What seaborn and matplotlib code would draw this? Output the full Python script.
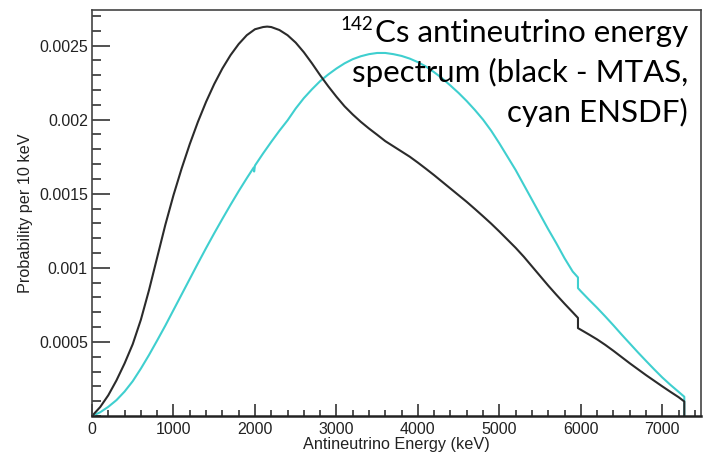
import matplotlib
matplotlib.use("Agg")
import matplotlib.pyplot as plt
from matplotlib.ticker import MultipleLocator, FixedLocator, FixedFormatter
import seaborn as sns
import pandas as pd

# MTAS antineutrino spectrum (energy in keV, probability per 10 keV)
mtas_energy = [0, 100, 200, 300, 400, 500, 600, 700, 800, 900, 1000, 1100, 1200,
               1300, 1400, 1500, 1600, 1700, 1800, 1900, 2000, 2100, 2150, 2200,
               2300, 2400, 2500, 2600, 2700, 2800, 2900, 3000, 3100, 3200, 3300,
               3400, 3500, 3600, 3700, 3800, 3900, 4000, 4100, 4200, 4300, 4400,
               4500, 4600, 4700, 4800, 4900, 5000, 5100, 5200, 5300, 5400, 5500,
               5600, 5700, 5800, 5900, 5965, 5965, 6000, 6100, 6200, 6300, 6400,
               6500, 6600, 6700, 6800, 6900, 7000, 7100, 7200, 7270, 7270]
mtas_prob = [0.0, 0.00006, 0.00014, 0.00024, 0.000355, 0.000485, 0.00065,
             0.00085, 0.00107, 0.00129, 0.00149, 0.00167, 0.001835, 0.001985,
             0.00212, 0.00224, 0.002345, 0.002435, 0.00251, 0.00257, 0.00261,
             0.002625, 0.002628, 0.002625, 0.002605, 0.00257, 0.00252, 0.002455,
             0.00238, 0.0023, 0.002225, 0.002155, 0.00209, 0.002035, 0.001985,
             0.00194, 0.001898, 0.001855, 0.00182, 0.001785, 0.00175, 0.00171,
             0.001668, 0.001625, 0.00158, 0.001535, 0.00149, 0.001445, 0.001397,
             0.001348, 0.001298, 0.001245, 0.00119, 0.001135, 0.001075, 0.00101,
             0.000945, 0.00088, 0.000818, 0.000758, 0.0007, 0.000662, 0.000593,
             0.000582, 0.00055, 0.000517, 0.00048, 0.00044, 0.000398, 0.000356,
             0.000316, 0.000276, 0.000238, 0.0002, 0.000163, 0.000127, 0.000098,
             0.0]

# ENSDF antineutrino spectrum
ensdf_energy = [0, 100, 200, 300, 400, 500, 600, 700, 800, 900, 1000, 1100,
                1200, 1300, 1400, 1500, 1600, 1700, 1800, 1900, 1985, 1990, 2000,
                2100, 2200, 2300, 2400, 2500, 2600, 2700, 2800, 2900, 3000, 3100,
                3200, 3300, 3400, 3500, 3600, 3700, 3800, 3900, 4000, 4100, 4200,
                4300, 4400, 4500, 4600, 4700, 4800, 4900, 5000, 5100, 5200, 5300,
                5400, 5500, 5600, 5700, 5800, 5900, 5965, 5965, 6000, 6100, 6200,
                6300, 6400, 6500, 6600, 6700, 6800, 6900, 7000, 7100, 7200, 7270,
                7270]
ensdf_prob = [0.0, 0.000025, 0.000062, 0.000107, 0.000165, 0.000235, 0.00032,
              0.000412, 0.00051, 0.00061, 0.000715, 0.00082, 0.000925, 0.00103,
              0.001133, 0.001233, 0.00133, 0.001425, 0.001517, 0.001605, 0.001677,
              0.00165, 0.00169, 0.001772, 0.00185, 0.001925, 0.001995, 0.002075,
              0.002145, 0.002205, 0.00226, 0.002305, 0.002345, 0.00238, 0.002408,
              0.002428, 0.002442, 0.00245, 0.00245, 0.002442, 0.00243, 0.002412,
              0.002388, 0.002358, 0.00232, 0.002278, 0.00223, 0.00218, 0.002125,
              0.002065, 0.002, 0.001925, 0.00184, 0.00175, 0.00166, 0.00156,
              0.00146, 0.00136, 0.00126, 0.001165, 0.001065, 0.000975, 0.000935,
              0.000863, 0.000842, 0.000785, 0.00073, 0.000672, 0.000612, 0.00055,
              0.00049, 0.00043, 0.000372, 0.000315, 0.00026, 0.00021, 0.000163,
              0.00013, 0.0]

x_ticks = [0, 1000, 2000, 3000, 4000, 5000, 6000, 7000]
x_tick_labels = ["0", "1000", "2000", "3000", "4000", "5000", "6000", "7000"]
y_ticks = [0.0005, 0.001, 0.0015, 0.002, 0.0025]
y_tick_labels = ["0.0005", "0.001", "0.0015", "0.002", "0.0025"]

title_lines = ["Cs antineutrino energy", "spectrum (black - MTAS,", "cyan ENSDF)"]
isotope_mass = "142"

sns.set_theme(style="white")
plt.rcParams["font.family"] = ["Liberation Sans", "DejaVu Sans"]

W, H = 710, 453
fig = plt.figure(figsize=(W / 100, H / 100), dpi=100)
ax = fig.add_axes([92 / W, 37 / H, 609 / W, 406 / H])

ensdf = pd.DataFrame({"energy": ensdf_energy, "prob": ensdf_prob})
mtas = pd.DataFrame({"energy": mtas_energy, "prob": mtas_prob})
sns.lineplot(data=ensdf, x="energy", y="prob", ax=ax, color="#3fcfcf",
             linewidth=1.5, sort=False, estimator=None)
sns.lineplot(data=mtas, x="energy", y="prob", ax=ax, color="#2b2b2b",
             linewidth=1.5, sort=False, estimator=None)

ax.set_xlim(0, 7475)
ax.set_ylim(0, 0.00274)

ax.xaxis.set_major_locator(FixedLocator(x_ticks))
ax.xaxis.set_major_formatter(FixedFormatter(x_tick_labels))
ax.xaxis.set_minor_locator(MultipleLocator(200))
ax.yaxis.set_major_locator(FixedLocator(y_ticks))
ax.yaxis.set_major_formatter(FixedFormatter(y_tick_labels))
ax.yaxis.set_minor_locator(MultipleLocator(0.0001))

ax.tick_params(axis="x", which="major", direction="in", length=9, width=1.2,
               color="#333333", labelsize=11.5, pad=4, labelcolor="#222222")
ax.tick_params(axis="x", which="minor", direction="in", length=4.5, width=1.2,
               color="#333333")
ax.tick_params(axis="y", which="major", direction="in", length=13, width=1.2,
               color="#333333", labelsize=11.5, pad=3, labelcolor="#222222")
ax.tick_params(axis="y", which="minor", direction="in", length=6.5, width=1.2,
               color="#333333")
ax.tick_params(bottom=True, left=True, top=False, right=False, which="both")

for side, spine in ax.spines.items():
    spine.set_visible(True)
    spine.set_color("#444444")
    spine.set_linewidth(1.2)
ax.spines["bottom"].set_linewidth(1.8)
ax.spines["bottom"].set_color("#222222")

ax.set_xlabel("Antineutrino Energy (keV)", fontsize=11.7, color="#222222", labelpad=0.5)
ax.set_ylabel("Probability per 10 keV", fontsize=11.7, color="#222222", labelpad=4)

# Spectrum caption in the upper right corner, right-aligned
caption_kw = dict(family=["Lato", "DejaVu Sans"], fontsize=22.5, color="black",
                  ha="right", va="baseline")
right_x = 688 / W
baselines = [42, 82.5, 122]
caption = [fig.text(right_x, 1 - b / H, line, **caption_kw)
           for line, b in zip(title_lines, baselines)]

# Mass number as a superscript in front of the element symbol
renderer = fig.canvas.get_renderer()
bb = caption[0].get_window_extent(renderer=renderer)
fig.text((bb.x0 - 1.5) / W, 1 - (baselines[0] - 12) / H, isotope_mass,
         family=["Lato", "DejaVu Sans"], fontsize=13.5, color="black",
         ha="right", va="baseline")

fig.savefig("out.png", dpi=100, facecolor="white")
